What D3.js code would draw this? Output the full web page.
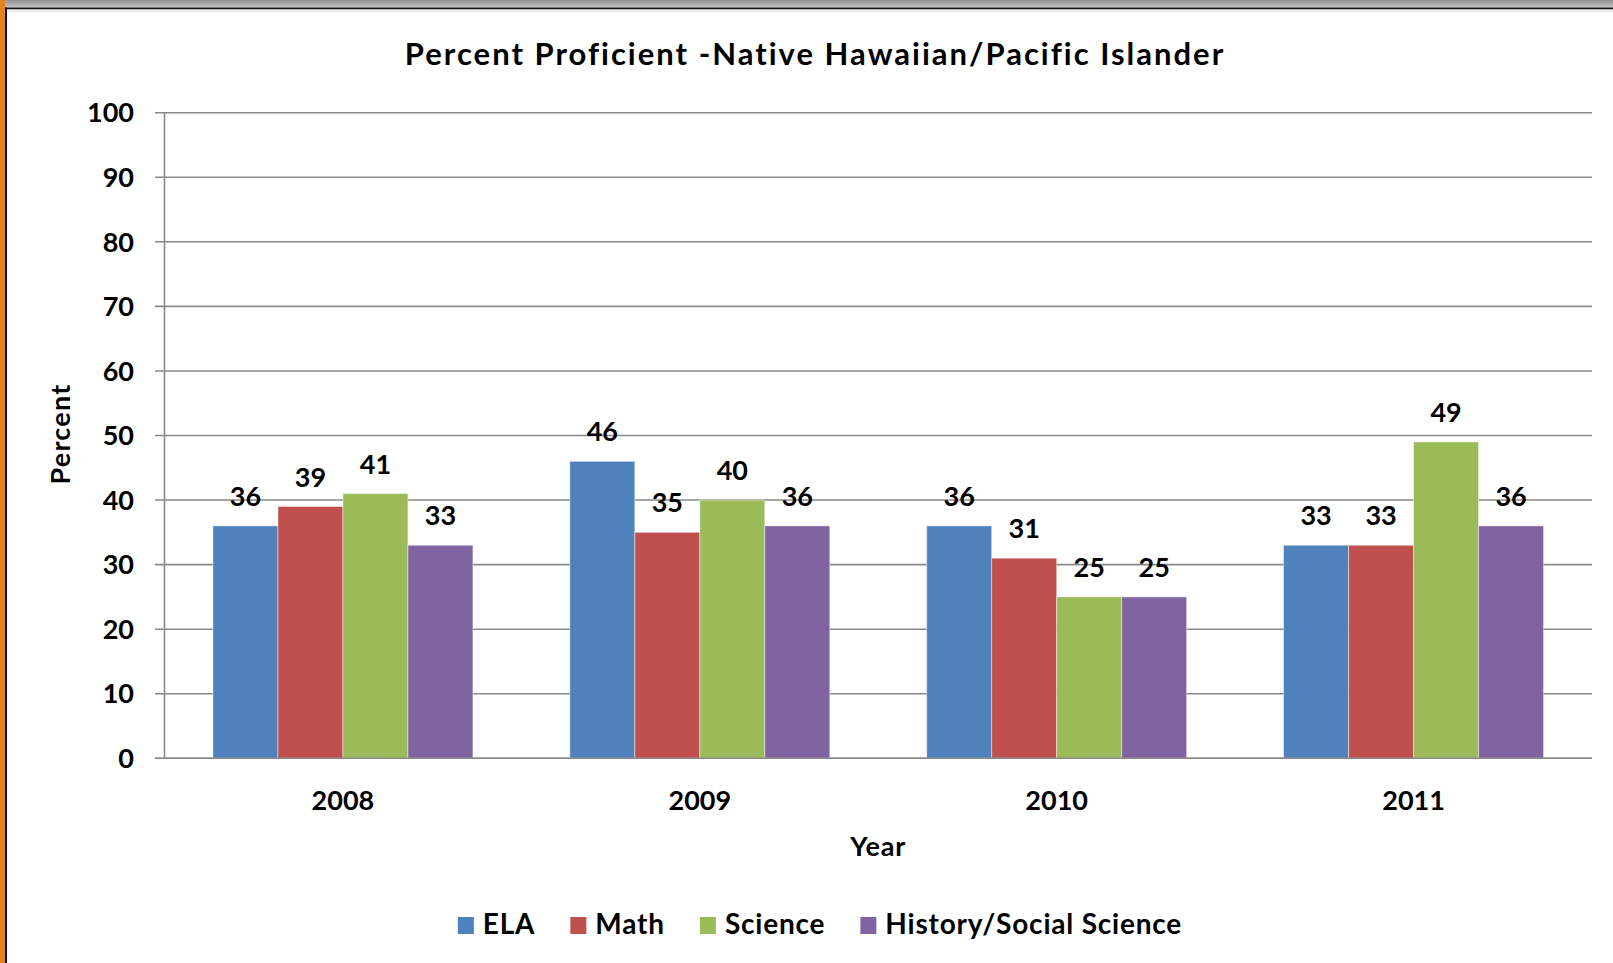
<!DOCTYPE html>
<html>
<head>
<meta charset="utf-8">
<script src="https://cdn.jsdelivr.net/npm/d3@7"></script>
<style>
  html, body { margin: 0; padding: 0; background: #fff; }
  svg { display: block; font-family: Lato, "Open Sans", sans-serif; font-weight: bold; }
</style>
</head>
<body>
<div id="chart"></div>
<script>
const years = ["2008", "2009", "2010", "2011"]
const subjects = ["ELA", "Math", "Science", "History/Social Science"]
const colors = ["#4F81BD", "#C0504D", "#9BBB59", "#8064A2"]
const ela = [36, 46, 36, 33]
const math = [39, 35, 31, 33]
const science = [41, 40, 25, 49]
const history = [33, 36, 25, 36]
const yTicks = [0, 10, 20, 30, 40, 50, 60, 70, 80, 90, 100]

const seriesValues = [ela, math, science, history]

const W = 1613, H = 963
const plot = {left: 164.5, right: 1592, top: 112.7, bottom: 758.3}

const svg = d3.select("#chart")
    .append("svg")
    .attr("width", W)
    .attr("height", H)

// frame: gray top bar and orange left strip
const defs = svg.append("defs")
const grad = defs.append("linearGradient")
    .attr("id", "topbar")
    .attr("x1", 0).attr("y1", 0).attr("x2", 0).attr("y2", 1)
grad.append("stop").attr("offset", "0%").attr("stop-color", "#8e8e8e")
grad.append("stop").attr("offset", "100%").attr("stop-color", "#c4c4c4")

svg.append("rect").attr("x", 0).attr("y", 0).attr("width", W).attr("height", 7.5).attr("fill", "url(#topbar)")
svg.append("rect").attr("x", 0).attr("y", 7.5).attr("width", W).attr("height", 2).attr("fill", "#111")
svg.append("rect").attr("x", 0).attr("y", 9.5).attr("width", W).attr("height", 3).attr("fill", "#eee")
svg.append("rect").attr("x", 0).attr("y", 0).attr("width", 5).attr("height", H).attr("fill", "#E5821F")
svg.append("rect").attr("x", 5).attr("y", 7.5).attr("width", 2).attr("height", H).attr("fill", "#111")

const x0 = d3.scaleBand()
    .domain(years)
    .range([plot.left, plot.right])
    .paddingInner(0.2715)
    .paddingOuter(0.2715 / 2)

const x1 = d3.scaleBand()
    .domain(subjects)
    .range([0, x0.bandwidth()])

const y = d3.scaleLinear()
    .domain([0, 100])
    .range([plot.bottom, plot.top])

// gridlines + tick marks
svg.append("g")
    .selectAll("line")
    .data(yTicks)
    .join("line")
    .attr("x1", plot.left - 9.5)
    .attr("x2", plot.right)
    .attr("y1", d => y(d))
    .attr("y2", d => y(d))
    .attr("stroke", "#8a8a8a")
    .attr("stroke-width", 1.6)

svg.append("line")
    .attr("x1", plot.left).attr("x2", plot.left)
    .attr("y1", plot.top).attr("y2", plot.bottom)
    .attr("stroke", "#8a8a8a")
    .attr("stroke-width", 1.6)

svg.append("g")
    .selectAll("text")
    .data(yTicks)
    .join("text")
    .attr("x", 134)
    .attr("y", d => y(d))
    .attr("dy", "0.36em")
    .attr("text-anchor", "end")
    .attr("font-size", 27)
    .text(d => d)

// bars
const groups = svg.append("g")
    .selectAll("g")
    .data(subjects)
    .join("g")
    .attr("fill", (d, i) => colors[i])

groups.selectAll("rect")
    .data((s, i) => years.map((yr, j) => ({year: yr, subject: s, value: seriesValues[i][j]})))
    .join("rect")
    .attr("x", d => x0(d.year) + x1(d.subject))
    .attr("y", d => y(d.value))
    .attr("width", x1.bandwidth())
    .attr("height", d => plot.bottom - y(d.value))
    .attr("stroke", "rgba(255,255,255,0.45)")
    .attr("stroke-width", 1)

// baseline on top
svg.append("line")
    .attr("x1", plot.left - 9.5).attr("x2", plot.right)
    .attr("y1", plot.bottom).attr("y2", plot.bottom)
    .attr("stroke", "#8a8a8a")
    .attr("stroke-width", 1.6)

// value labels
groups.selectAll("text")
    .data((s, i) => years.map((yr, j) => ({year: yr, subject: s, value: seriesValues[i][j]})))
    .join("text")
    .attr("x", d => x0(d.year) + x1(d.subject) + x1.bandwidth() / 2)
    .attr("y", d => y(d.value) - 20)
    .attr("text-anchor", "middle")
    .attr("font-size", 27)
    .attr("fill", "#000")
    .text(d => d.value)

// x labels
svg.append("g")
    .selectAll("text")
    .data(years)
    .join("text")
    .attr("x", d => x0(d) + x0.bandwidth() / 2)
    .attr("y", 810)
    .attr("text-anchor", "middle")
    .attr("font-size", 27)
    .text(d => d)

// titles
svg.append("text")
    .attr("x", 815)
    .attr("y", 65)
    .attr("text-anchor", "middle")
    .attr("font-size", 31)
    .attr("letter-spacing", 2)
    .text("Percent Proficient -Native Hawaiian/Pacific Islander")

svg.append("text")
    .attr("x", (plot.left + plot.right) / 2)
    .attr("y", 856)
    .attr("text-anchor", "middle")
    .attr("font-size", 27)
    .attr("letter-spacing", 0.8)
    .text("Year")

svg.append("text")
    .attr("transform", "translate(70,434) rotate(-90)")
    .attr("text-anchor", "middle")
    .attr("font-size", 27)
    .attr("letter-spacing", 1.2)
    .text("Percent")

// legend
const legend = svg.append("g")
let lx = 0
subjects.forEach((s, i) => {
    const g = legend.append("g")
    g.append("rect")
        .attr("x", 0).attr("y", -17)
        .attr("width", 16).attr("height", 17)
        .attr("fill", colors[i])
    const t = g.append("text")
        .attr("x", 25)
        .attr("y", 0)
        .attr("font-size", 28)
        .attr("letter-spacing", 0.8)
        .text(s)
    g.attr("transform", `translate(${lx},0)`)
    lx += 25 + t.node().getComputedTextLength() + 35
})
const legendWidth = lx - 35
legend.attr("transform", `translate(${820 - legendWidth / 2},934)`)
</script>
</body>
</html>
